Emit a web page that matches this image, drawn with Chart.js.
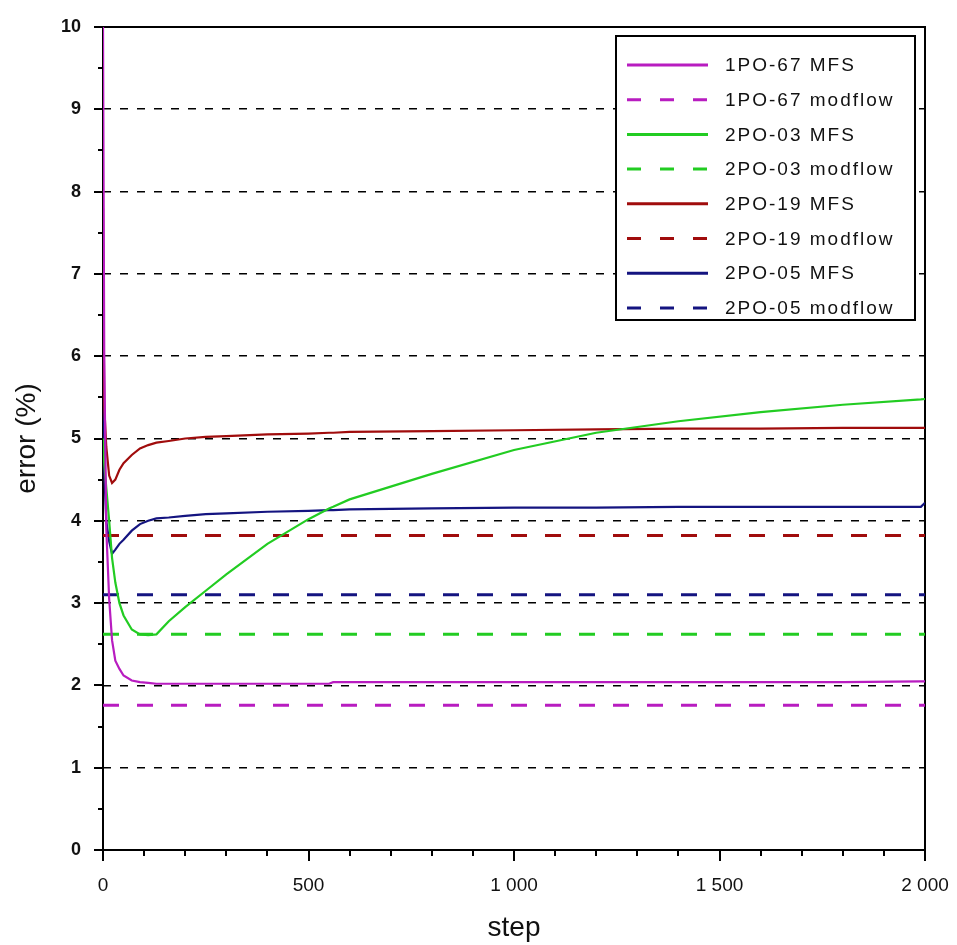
<!DOCTYPE html>
<html>
<head>
<meta charset="utf-8">
<script src="https://cdn.jsdelivr.net/npm/chart.js@4/dist/chart.umd.min.js"></script>
<style>
  html, body { margin: 0; padding: 0; background: #fff; }
  #wrap { width: 957px; height: 945px; }
</style>
</head>
<body>
<div id="wrap"><canvas id="c" width="957" height="945"></canvas></div>
<script>
// step values shared by all MFS curves
const steps = [0, 3, 8, 15, 22, 30, 40, 50, 70, 90, 110, 130, 160, 200, 250, 300, 400, 500, 550, 560, 600, 800, 1000, 1200, 1400, 1600, 1800, 1990, 2000];

const mfs1PO67 = [10, 6.0, 3.9, 3.05, 2.55, 2.3, 2.2, 2.12, 2.06, 2.04, 2.03, 2.02, 2.02, 2.02, 2.02, 2.02, 2.02, 2.02, 2.02, 2.04, 2.04, 2.04, 2.04, 2.04, 2.04, 2.04, 2.04, 2.05, 2.05];
const mfs2PO03 = [5.0, 4.7, 4.4, 4.0, 3.55, 3.25, 3.0, 2.85, 2.68, 2.62, 2.61, 2.62, 2.78, 2.95, 3.15, 3.35, 3.72, 4.02, 4.15, 4.17, 4.26, 4.57, 4.86, 5.07, 5.21, 5.32, 5.41, 5.475, 5.48];
const mfs2PO19 = [7.8, 5.4, 4.9, 4.55, 4.46, 4.5, 4.62, 4.7, 4.8, 4.88, 4.92, 4.95, 4.97, 5.0, 5.02, 5.03, 5.05, 5.06, 5.07, 5.07, 5.08, 5.09, 5.1, 5.11, 5.12, 5.12, 5.13, 5.13, 5.13];
const mfs2PO05 = [7.05, 4.6, 4.0, 3.75, 3.6, 3.65, 3.72, 3.77, 3.88, 3.96, 4.0, 4.03, 4.04, 4.06, 4.08, 4.09, 4.11, 4.12, 4.13, 4.13, 4.14, 4.15, 4.16, 4.16, 4.17, 4.17, 4.17, 4.17, 4.22];

// modflow results are constant levels
const modflowSteps = [0, 2000];
const modflow = { '1PO-67': 1.76, '2PO-03': 2.62, '2PO-19': 3.82, '2PO-05': 3.1 };

const yTicks = [0, 1, 2, 3, 4, 5, 6, 7, 8, 9, 10];
const xTicks = [0, 500, 1000, 1500, 2000];

const colors = { '1PO-67': '#b81cc0', '2PO-03': '#22cc22', '2PO-19': '#a00c0c', '2PO-05': '#141480' };

const pts = (xs, ys) => xs.map((x, i) => ({ x: x, y: ys[i] }));

const datasets = [];
const addPair = (name, mfs) => {
  datasets.push({
    label: name + ' MFS', data: pts(steps, mfs),
    borderColor: colors[name], borderWidth: 2.2, pointRadius: 0, tension: 0
  });
  datasets.push({
    label: name + ' modflow', data: pts(modflowSteps, [modflow[name], modflow[name]]),
    borderColor: colors[name], borderWidth: 3, borderDash: [16, 18], pointRadius: 0
  });
};
addPair('1PO-67', mfs1PO67);
addPair('2PO-03', mfs2PO03);
addPair('2PO-19', mfs2PO19);
addPair('2PO-05', mfs2PO05);

// frame + outside ticks
const frame = {
  id: 'frame',
  beforeDatasetsDraw(chart) {
    const { ctx, chartArea: a } = chart;
    ctx.save();
    ctx.strokeStyle = '#000';
    ctx.lineWidth = 2;
    ctx.strokeRect(a.left, a.top, a.right - a.left, a.bottom - a.top);
    ctx.restore();
  },
  afterDraw(chart) {
    const { ctx, chartArea: a, scales } = chart;
    ctx.save();
    ctx.strokeStyle = '#000';
    ctx.lineWidth = 2;
    ctx.beginPath();
    for (let v = 0; v <= 10; v += 0.5) {
      const y = Math.round(scales.y.getPixelForValue(v));
      const len = Number.isInteger(v) ? 9 : 5;
      ctx.moveTo(a.left - len, y); ctx.lineTo(a.left, y);
    }
    for (let s = 0; s <= 2000; s += 100) {
      const x = Math.round(scales.x.getPixelForValue(s));
      const len = s % 500 === 0 ? 11 : 6;
      ctx.moveTo(x, a.bottom); ctx.lineTo(x, a.bottom + len);
    }
    ctx.stroke();
    ctx.restore();
  }
};

// boxed legend inside the plot, top right
const boxLegend = {
  id: 'boxLegend',
  afterDatasetsDraw(chart) {
    const { ctx } = chart;
    const left = 616, top = 36, w = 299, h = 284, row = 34.7;
    ctx.save();
    ctx.fillStyle = '#fff';
    ctx.fillRect(left, top, w, h);
    ctx.strokeStyle = '#000';
    ctx.lineWidth = 2;
    ctx.strokeRect(left, top, w, h);
    ctx.font = '19px "Liberation Sans", Arial, sans-serif';
    ctx.letterSpacing = '2px';
    ctx.textBaseline = 'middle';
    chart.data.datasets.forEach((ds, i) => {
      const y = top + 29 + i * row;
      ctx.strokeStyle = ds.borderColor;
      ctx.lineWidth = 3;
      ctx.setLineDash(ds.borderDash ? [14, 19] : []);
      ctx.beginPath();
      ctx.moveTo(627, y); ctx.lineTo(708, y);
      ctx.stroke();
      ctx.setLineDash([]);
      ctx.fillStyle = '#111';
      ctx.fillText(ds.label, 725, y + 1);
    });
    ctx.restore();
  }
};

new Chart(document.getElementById('c'), {
  type: 'line',
  data: { datasets: datasets },
  options: {
    responsive: false,
    animation: false,
    layout: { padding: { top: 27, right: 32, left: 0, bottom: 0 } },
    plugins: { legend: { display: false }, tooltip: { enabled: false } },
    scales: {
      x: {
        type: 'linear', min: 0, max: 2000,
        afterBuildTicks: (s) => { s.ticks = xTicks.map(v => ({ value: v })); },
        afterFit: (s) => { s.height = 95; s.paddingLeft = 0; s.paddingRight = 0; },
        grid: { display: false, drawTicks: false },
        border: { display: false },
        ticks: {
          padding: 24, color: '#111',
          font: { family: '"Liberation Sans", Arial, sans-serif', size: 19 },
          callback: (v) => v >= 1000 ? String(v).replace(/(\d)(\d{3})$/, '$1 $2') : String(v)
        },
        title: {
          display: true, text: 'step', color: '#111',
          font: { family: '"Liberation Sans", Arial, sans-serif', size: 28 },
          padding: { top: 0, bottom: 0 }
        }
      },
      y: {
        type: 'linear', min: 0, max: 10,
        afterBuildTicks: (s) => { s.ticks = yTicks.map(v => ({ value: v })); },
        afterFit: (s) => { s.width = 103; s.paddingTop = 0; s.paddingBottom = 0; },
        grid: {
          drawTicks: false, lineWidth: 1.6,
          color: (c) => (c.tick && c.tick.value > 0 && c.tick.value < 10) ? '#000' : 'rgba(0,0,0,0)'
        },
        border: { display: false, dash: [8, 9] },
        ticks: {
          padding: 22, color: '#111',
          font: { family: '"Liberation Sans", Arial, sans-serif', size: 18, weight: 'bold' }
        },
        title: {
          display: true, text: 'error (%)', color: '#111',
          font: { family: '"Liberation Sans", Arial, sans-serif', size: 28 },
          padding: { top: 10, bottom: 0 }
        }
      }
    }
  },
  plugins: [frame, boxLegend]
});
</script>
</body>
</html>
